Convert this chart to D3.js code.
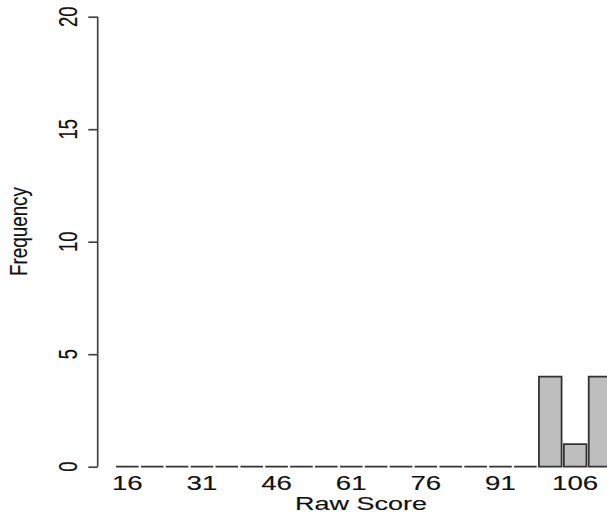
<!DOCTYPE html>
<html>
<head>
<meta charset="utf-8">
<script src="https://cdn.jsdelivr.net/npm/d3@7"></script>
<style>
  html, body { margin: 0; padding: 0; background: #fff; }
  svg { display: block; }
  text { font-family: "Liberation Sans", Arial, sans-serif; fill: #111; stroke: #111; stroke-width: 0.15px; }
</style>
</head>
<body>
<svg id="chart" width="607" height="518"></svg>
<script>
// ---- data ----
const categories = [16, 21, 26, 31, 36, 41, 46, 51, 56, 61, 66, 71, 76, 81, 86, 91, 96, 101, 106, 111];
const frequencies = [0, 0, 0, 0, 0, 0, 0, 0, 0, 0, 0, 0, 0, 0, 0, 0, 0, 4, 1, 4];
const xTickLabels = [16, 31, 46, 61, 76, 91, 106];
const yTicks = [0, 5, 10, 15, 20];
const xTitle = "Raw Score";
const yTitle = "Frequency";

// ---- layout ----
const sx = 1.42;           // horizontal text stretch seen in the reference
const svg = d3.select("#chart");

const step = 24.88, padInner = 0.091;
const x = d3.scaleBand()
  .domain(categories)
  .range([116, 116 + step * (categories.length - padInner)])
  .paddingInner(padInner)
  .paddingOuter(0);

const y = d3.scaleLinear().domain([0, 20]).range([466.7, 16.7]);
const axisX = 97.7;

// ---- bars (paths so zero-height bars still show their border) ----
svg.append("g").selectAll("path")
  .data(categories.map((c, i) => ({ c, v: frequencies[i] })))
  .join("path")
  .attr("d", d => {
    const x0 = x(d.c), w = x.bandwidth(), y0 = y(d.v), h = y(0) - y(d.v);
    return `M${x0},${y0}h${w}v${h}h${-w}Z`;
  })
  .attr("fill", "#bebebe")
  .attr("stroke", "#333")
  .attr("stroke-width", 1.8);

// ---- y axis ----
const yAxis = d3.axisLeft(y).tickValues(yTicks).tickSize(9.4).tickFormat("");
const ga = svg.append("g").attr("transform", `translate(${axisX},0)`).call(yAxis);
ga.select(".domain").attr("stroke", "#444").attr("stroke-width", 1.7)
  .attr("d", `M0,${y(0)}V${y(20)}`);
ga.selectAll(".tick line").attr("stroke", "#444").attr("stroke-width", 1.7);

svg.append("g").selectAll("text")
  .data(yTicks)
  .join("text")
  .attr("transform", d => `translate(77,${y(d)}) scale(${sx},1) rotate(-90)`)
  .attr("text-anchor", "middle")
  .attr("font-size", 18.5)
  .text(d => d);

// ---- x tick labels ----
svg.append("g").selectAll("text")
  .data(xTickLabels)
  .join("text")
  .attr("transform", d => `translate(${x(d) + x.bandwidth() / 2},490) scale(${sx},1)`)
  .attr("text-anchor", "middle")
  .attr("font-size", 19.5)
  .text(d => d);

// ---- titles ----
svg.append("text")
  .attr("transform", `translate(361,510) scale(1.46,1)`)
  .attr("text-anchor", "middle")
  .attr("font-size", 18.5)
  .text(xTitle);

svg.append("text")
  .attr("transform", `translate(27,231.5) scale(1.25,1) rotate(-90)`)
  .attr("text-anchor", "middle")
  .attr("font-size", 18.8)
  .text(yTitle);
</script>
</body>
</html>
